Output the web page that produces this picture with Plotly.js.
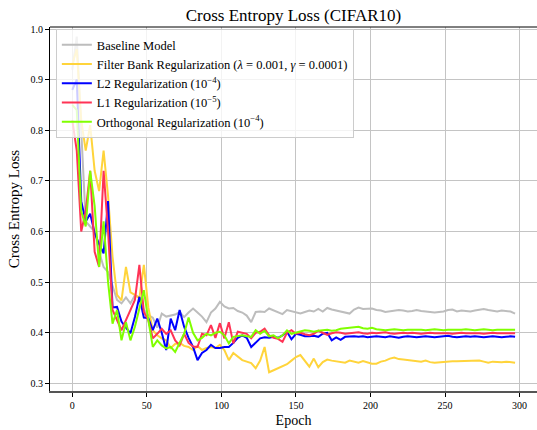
<!DOCTYPE html>
<html>
<head>
<meta charset="utf-8">
<script src="https://cdn.plot.ly/plotly-3.0.1.min.js"></script>
<style>html,body{margin:0;padding:0;overflow:hidden;background:#fff}#chart{width:537px;height:430px}</style>
</head>
<body>
<div id="chart"></div>
<script>
// Epochs sampled every 3 epochs
const epochs = Array.from({length: 100}, (_, i) => i * 3);

const seriesNames = [
  "Baseline Model",
  "Filter Bank Regularization (<i>λ</i> = 0.001, <i>γ</i> = 0.0001)",
  "L2 Regularization (10<sup>−4</sup>)",
  "L1 Regularization (10<sup>−5</sup>)",
  "Orthogonal Regularization (10<sup>−4</sup>)"
];

const baseline = [
  0.92,0.985,0.80,0.62,0.61,0.60,0.56,0.53,0.52,0.49,
  0.465,0.458,0.47,0.458,0.474,0.47,0.445,0.435,0.43,0.41,
  0.438,0.432,0.434,0.436,0.441,0.431,0.44,0.448,0.44,0.432,
  0.421,0.44,0.448,0.461,0.452,0.448,0.449,0.443,0.44,0.434,
  0.421,0.441,0.442,0.441,0.448,0.444,0.441,0.437,0.445,0.443,
  0.441,0.438,0.441,0.444,0.442,0.447,0.442,0.449,0.446,0.444,
  0.442,0.440,0.438,0.446,0.450,0.447,0.447,0.448,0.445,0.444,
  0.441,0.442,0.444,0.445,0.444,0.442,0.443,0.445,0.443,0.442,
  0.441,0.440,0.441,0.442,0.445,0.446,0.442,0.444,0.443,0.442,
  0.444,0.446,0.447,0.445,0.443,0.442,0.444,0.443,0.442,0.438
];

const filterBank = [
  0.93,0.96,0.82,0.76,0.81,0.72,0.68,0.76,0.67,0.55,
  0.475,0.464,0.53,0.48,0.475,0.468,0.534,0.45,0.405,0.395,
  0.389,0.385,0.37,0.378,0.38,0.374,0.372,0.366,0.374,0.366,
  0.37,0.372,0.37,0.376,0.366,0.346,0.36,0.352,0.346,0.343,
  0.34,0.33,0.345,0.372,0.322,0.326,0.33,0.333,0.338,0.345,
  0.352,0.356,0.345,0.333,0.349,0.332,0.342,0.347,0.345,0.344,
  0.343,0.341,0.345,0.343,0.341,0.344,0.341,0.339,0.339,0.343,
  0.345,0.349,0.351,0.348,0.347,0.346,0.345,0.344,0.343,0.345,
  0.342,0.341,0.342,0.343,0.344,0.344,0.344,0.344,0.344,0.344,
  0.344,0.345,0.343,0.341,0.343,0.342,0.342,0.343,0.342,0.341
];

const l2Reg = [
  0.88,0.90,0.66,0.62,0.635,0.597,0.575,0.557,0.66,0.45,
  0.451,0.422,0.41,0.399,0.431,0.471,0.43,0.429,0.405,0.428,
  0.40,0.366,0.428,0.405,0.445,0.412,0.39,0.372,0.346,0.36,
  0.366,0.376,0.37,0.37,0.372,0.372,0.38,0.39,0.395,0.39,
  0.372,0.38,0.389,0.391,0.39,0.392,0.39,0.395,0.402,0.387,
  0.398,0.396,0.393,0.393,0.394,0.392,0.398,0.400,0.385,0.391,
  0.386,0.392,0.393,0.393,0.392,0.393,0.391,0.392,0.393,0.392,
  0.391,0.393,0.392,0.390,0.392,0.393,0.392,0.391,0.392,0.393,
  0.392,0.391,0.392,0.393,0.394,0.392,0.391,0.392,0.393,0.392,
  0.393,0.392,0.391,0.392,0.393,0.392,0.391,0.392,0.393,0.392
];

const l1Reg = [
  0.82,0.76,0.60,0.64,0.72,0.56,0.53,0.72,0.60,0.445,
  0.425,0.405,0.425,0.445,0.465,0.534,0.441,0.425,0.389,0.398,
  0.408,0.398,0.405,0.385,0.375,0.398,0.38,0.373,0.372,0.398,
  0.395,0.415,0.39,0.419,0.389,0.421,0.379,0.402,0.40,0.398,
  0.389,0.40,0.402,0.408,0.395,0.39,0.388,0.382,0.40,0.405,
  0.398,0.40,0.397,0.395,0.398,0.404,0.40,0.396,0.399,0.401,
  0.400,0.398,0.399,0.400,0.401,0.399,0.398,0.400,0.399,0.400,
  0.401,0.399,0.398,0.399,0.400,0.399,0.400,0.399,0.398,0.399,
  0.400,0.399,0.399,0.400,0.399,0.398,0.399,0.400,0.399,0.399,
  0.400,0.399,0.398,0.399,0.400,0.399,0.399,0.398,0.399,0.399
];

const orthoReg = [
  0.85,0.84,0.64,0.61,0.72,0.65,0.53,0.62,0.50,0.418,
  0.445,0.385,0.421,0.385,0.412,0.45,0.484,0.425,0.372,0.385,
  0.375,0.369,0.372,0.362,0.38,0.398,0.43,0.40,0.385,0.39,
  0.398,0.395,0.40,0.402,0.395,0.379,0.392,0.393,0.395,0.393,
  0.392,0.405,0.398,0.404,0.393,0.395,0.389,0.395,0.405,0.398,
  0.40,0.403,0.405,0.404,0.402,0.404,0.405,0.406,0.404,0.405,
  0.408,0.409,0.41,0.411,0.412,0.409,0.408,0.41,0.407,0.406,
  0.405,0.406,0.407,0.406,0.405,0.406,0.406,0.407,0.406,0.405,
  0.406,0.407,0.406,0.405,0.406,0.406,0.405,0.406,0.407,0.406,
  0.405,0.406,0.407,0.406,0.405,0.406,0.406,0.407,0.406,0.406
];

const seriesData = [baseline, filterBank, l2Reg, l1Reg, orthoReg];
const colors = ["#bdbdbd", "#ffd43b", "#0000ff", "#ff3355", "#80ff00"];

const traces = seriesData.map((ys, k) => ({
  type: "scatter", mode: "lines", x: epochs, y: ys, name: seriesNames[k],
  line: {color: colors[k], width: 2}
}));

const serif = "Liberation Serif, Times New Roman, serif";
const layout = {
  width: 537, height: 430,
  margin: {l: 50, r: 0, t: 27, b: 39},
  paper_bgcolor: "#fff", plot_bgcolor: "#fff",
  font: {family: serif, color: "#000", size: 10},
  title: {text: "Cross Entropy Loss (CIFAR10)", font: {family: serif, size: 17}, x: 0.5465, xanchor: "center", y: 0.966, yanchor: "middle"},
  xaxis: {
    range: [-14.95, 311.7], tickvals: [0,50,100,150,200,250,300],
    showgrid: true, gridcolor: "#c4c4c4", gridwidth: 1,
    zeroline: false, showline: true, linecolor: "#555", linewidth: 1.5,
    ticks: "outside", ticklen: 4, tickwidth: 1, tickcolor: "#000",
    tickfont: {family: serif, size: 10},
    title: {text: "Epoch", font: {family: serif, size: 14}, standoff: 5}
  },
  yaxis: {
    range: [0.285, 1.004], tickvals: [0.3,0.4,0.5,0.6,0.7,0.8,0.9,1.0], tickformat: ".1f",
    showgrid: true, gridcolor: "#c4c4c4", gridwidth: 1,
    zeroline: false, showline: true, linecolor: "#000", linewidth: 1,
    ticks: "outside", ticklen: 4, tickwidth: 1, tickcolor: "#000",
    tickfont: {family: serif, size: 10},
    title: {text: "Cross Entropy Loss", font: {family: serif, size: 15}, standoff: 7}
  },
  shapes: [{type: "line", xref: "paper", yref: "paper", x0: 0, x1: 1, y0: 1, y1: 1, line: {color: "#000", width: 1}}],
  showlegend: true,
  legend: {
    x: 0.012, y: 0.994, xanchor: "left", yanchor: "top",
    bgcolor: "rgba(255,255,255,0.8)", bordercolor: "#cccccc", borderwidth: 1,
    font: {family: serif, size: 12.5}, itemwidth: 30
  }
};

Plotly.newPlot("chart", traces, layout, {displayModeBar: false, staticPlot: true});
</script>
</body>
</html>
